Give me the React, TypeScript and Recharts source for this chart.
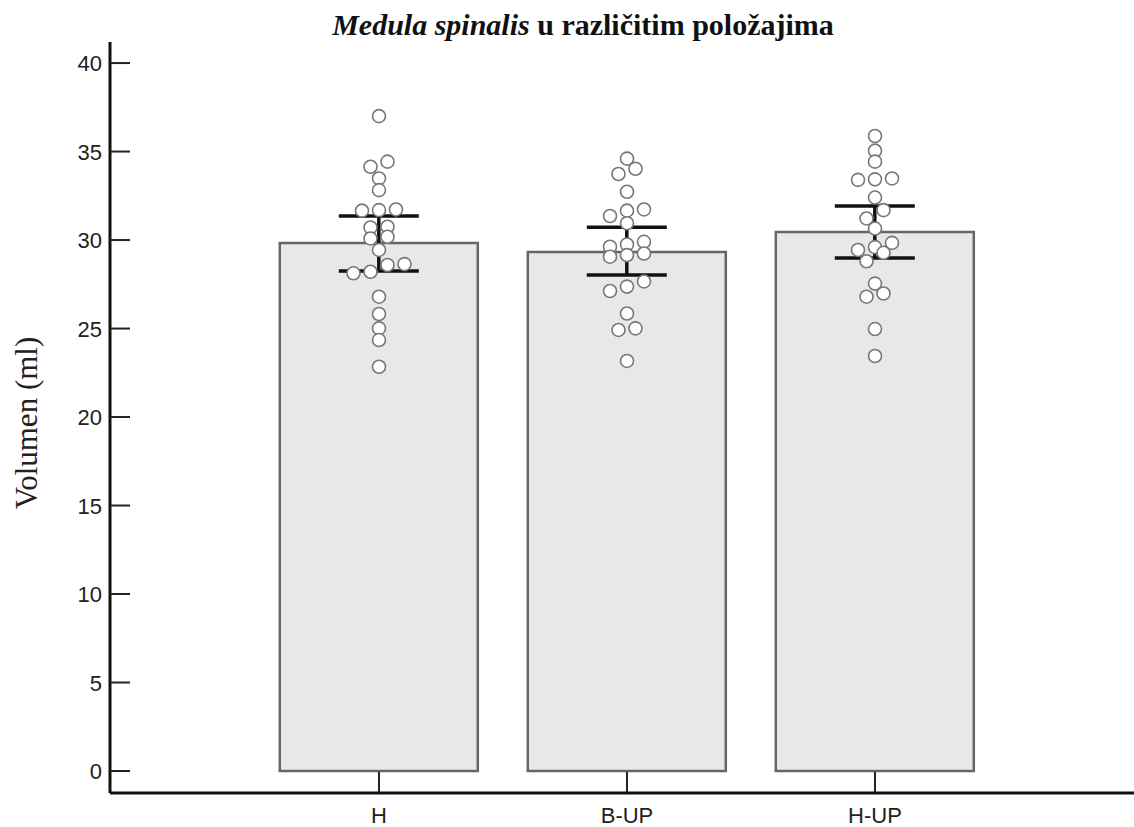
import { ComposedChart, Bar, Scatter, XAxis, YAxis, ErrorBar } from 'recharts';

const categories = ['H', 'B-UP', 'H-UP'];
const means = [29.83, 29.32, 30.45];
const ciLow = [28.25, 28.02, 28.98];
const ciHigh = [31.36, 30.73, 31.92];

const hValues = [
  37.0, 34.43, 34.14, 33.48, 32.82, 31.73, 31.69, 31.66, 30.75, 30.71, 30.19,
  30.09, 29.44, 28.64, 28.59, 28.21, 28.12, 26.8, 25.82, 25.01, 24.35, 22.84,
];
const bupValues = [
  34.6, 34.03, 33.73, 32.73, 31.73, 31.66, 31.36, 30.95, 29.9, 29.75, 29.62,
  29.24, 29.15, 29.06, 27.66, 27.37, 27.12, 25.85, 25.01, 24.92, 23.17,
];
const hupValues = [
  35.88, 35.05, 34.43, 33.48, 33.43, 33.4, 32.4, 31.69, 31.22, 30.65, 29.84,
  29.6, 29.44, 29.28, 28.8, 27.54, 26.98, 26.8, 24.97, 23.45,
];
const yTicks = [0, 5, 10, 15, 20, 25, 30, 35, 40];

const W = 1134;
const H = 827;
const AXIS_X = 110;
const PAD_L = 145;
const PAD_R = 135;
const BAND = (W - AXIS_X - PAD_L - PAD_R) / categories.length;
const SLOT = 17 / BAND; // horizontal step between touching dots, in category units
const GROUP_GAP = 0.55; // dots closer than this (ml) sit side by side

// simple dot-plot layout: neighbours in value are spread symmetrically
function swarm(values: number[], idx: number) {
  const sorted = [...values].sort((a, b) => b - a);
  const groups: number[][] = [];
  sorted.forEach((v) => {
    const g = groups[groups.length - 1];
    if (g && g[0] - v < GROUP_GAP) g.push(v);
    else groups.push([v]);
  });
  return groups.flatMap((g) =>
    g.map((v, k) => ({ x: idx + ((g.length - 1) / 2 - k) * SLOT, y: v }))
  );
}

const barData = categories.map((name, i) => ({
  name,
  mean: means[i],
  err: [means[i] - ciLow[i], ciHigh[i] - means[i]],
}));
const dots = [hValues, bupValues, hupValues].flatMap((vals, i) => swarm(vals, i));
const numDomain = [
  -(PAD_L + BAND / 2) / BAND,
  categories.length - 1 + (PAD_R + BAND / 2) / BAND,
];

function YTick({ x, y, payload }: any) {
  return (
    <g>
      <line x1={x} x2={x + 20} y1={y} y2={y} stroke="#222" strokeWidth={2} />
      <text
        x={x - 8}
        y={y}
        dy={8}
        textAnchor="end"
        fontFamily="Liberation Sans"
        fontSize={22}
        fill="#222"
      >
        {payload.value}
      </text>
    </g>
  );
}

function XTick({ x, y, payload }: any) {
  return (
    <g>
      <line x1={x} x2={x} y1={y} y2={y - 21} stroke="#222" strokeWidth={2} />
      <text
        x={x}
        y={y + 30}
        textAnchor="middle"
        fontFamily="Liberation Sans"
        fontSize={22}
        fill="#222"
      >
        {payload.value}
      </text>
    </g>
  );
}

function Dot({ cx, cy }: any) {
  return <circle cx={cx} cy={cy} r={6.5} fill="#fff" stroke="#777" strokeWidth={1.6} />;
}

export default function App() {
  return (
    <div style={{ position: 'absolute', left: 0, top: 0, width: W, height: H, background: '#fff' }}>
      <ComposedChart
        width={W}
        height={H}
        data={barData}
        margin={{ top: 42, right: 0, left: 0, bottom: 4 }}
        barCategoryGap="10%"
      >
        <XAxis
          xAxisId="cat"
          dataKey="name"
          padding={{ left: PAD_L, right: PAD_R }}
          height={30}
          interval={0}
          tickSize={0}
          tickMargin={0}
          tickLine={false}
          axisLine={{ stroke: '#111', strokeWidth: 3 }}
          tick={<XTick />}
        />
        <XAxis xAxisId="cat2" dataKey="name" padding={{ left: PAD_L, right: PAD_R }} hide />
        <XAxis
          xAxisId="num"
          type="number"
          dataKey="x"
          domain={numDomain}
          allowDataOverflow
          hide
        />
        <YAxis
          width={AXIS_X}
          domain={[-1.243, 41.19]}
          ticks={yTicks}
          allowDataOverflow
          interval={0}
          tickSize={0}
          tickMargin={0}
          tickLine={false}
          axisLine={{ stroke: '#111', strokeWidth: 3 }}
          tick={<YTick />}
        />
        <Bar
          xAxisId="cat"
          dataKey="mean"
          fill="#e8e8e8"
          stroke="#666"
          strokeWidth={2.5}
          isAnimationActive={false}
        />
        <Scatter
          xAxisId="num"
          data={dots}
          dataKey="y"
          shape={<Dot />}
          isAnimationActive={false}
        />
        <Bar xAxisId="cat2" dataKey="mean" fill="none" stroke="none" isAnimationActive={false}>
          <ErrorBar dataKey="err" width={40} stroke="#111" strokeWidth={3.5} isAnimationActive={false} />
        </Bar>
      </ComposedChart>
      <svg
        width={W}
        height={H}
        style={{ position: 'absolute', left: 0, top: 0, pointerEvents: 'none' }}
      >
        <text
          x={583}
          y={35}
          textAnchor="middle"
          fontFamily="Liberation Serif"
          fontWeight="bold"
          fontSize={30}
          fill="#111"
        >
          <tspan fontStyle="italic">Medula spinalis</tspan>
          {' u različitim položajima'}
        </text>
        <text
          transform="translate(37, 423) rotate(-90)"
          textAnchor="middle"
          fontFamily="Liberation Serif"
          fontSize={31}
          fill="#222"
        >
          Volumen (ml)
        </text>
      </svg>
    </div>
  );
}
